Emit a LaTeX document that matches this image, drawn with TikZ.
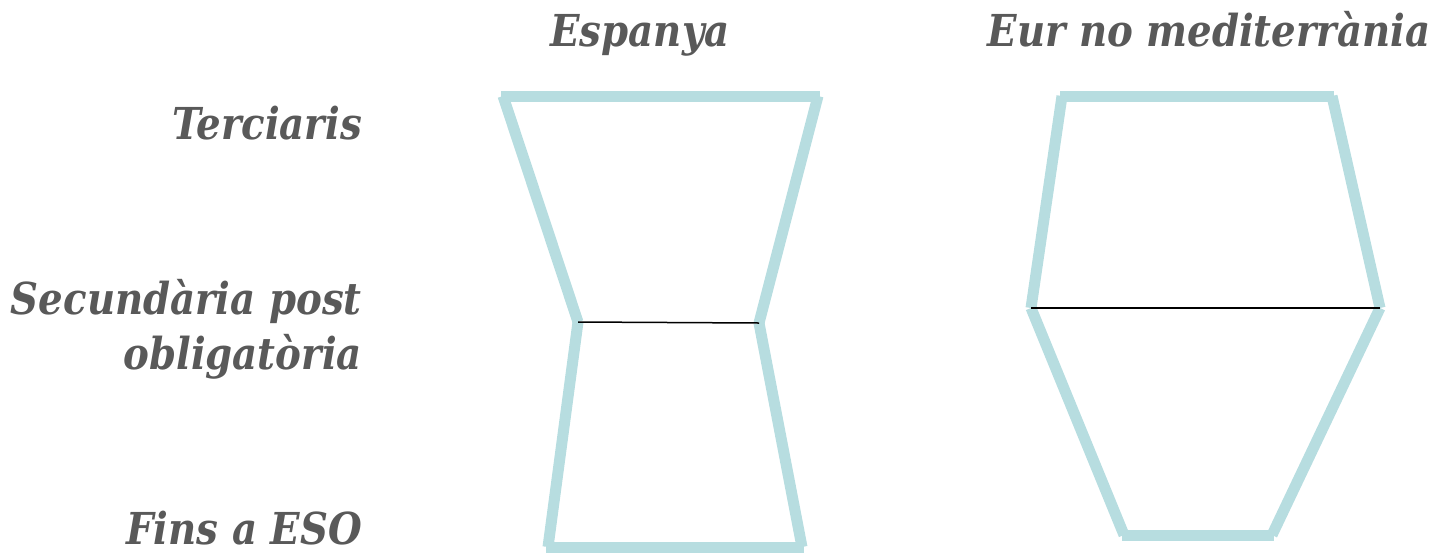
\documentclass[tikz,border=0pt]{standalone}
\usepackage{fontspec}
\setmainfont{DejaVu Serif}
\definecolor{band}{HTML}{B7DDE0}
\definecolor{txt}{HTML}{595959}
\begin{document}
\begin{tikzpicture}[x=1pt,y=-1pt,
  side/.style={draw=band,line width=11pt,line cap=butt},
  divider/.style={draw=black,line width=1.8pt},
  lbl/.style={text=txt,font=\fontsize{44}{55}\selectfont\bfseries\itshape,inner sep=0pt}]
\useasboundingbox (0,0) rectangle (1439,552);
% Espanya
\coordinate (a1) at (503,96);
\coordinate (a2) at (818,96);
\coordinate (a3) at (759,323);
\coordinate (a4) at (802,547);
\coordinate (a5) at (548,547);
\coordinate (a6) at (578,322);
\draw[side] (501,96) -- (820,96);
\draw[side] (a1) -- (a6);
\draw[side] (a2) -- (a3);
\draw[side] (a6) -- (a5);
\draw[side] (a3) -- (a4);
\draw[side] (546,547) -- (804,547);
\draw[divider,line width=1.5pt] (a6) -- (a3);
% Eur no mediterrania
\coordinate (b1) at (1062,96);
\coordinate (b2) at (1332,96);
\coordinate (b3) at (1380,308);
\coordinate (b4) at (1272,535);
\coordinate (b5) at (1124,535);
\coordinate (b6) at (1031,308);
\draw[side] (1060,96) -- (1334,96);
\draw[side] (b1) -- (b6);
\draw[side] (b2) -- (b3);
\draw[side] (b6) -- (b5);
\draw[side] (b3) -- (b4);
\draw[side] (1122,535) -- (1274,535);
\draw[divider] (b6) -- (b3);
% labels
\node[lbl,anchor=base] (h1) at (640,46) {\scalebox{0.88}[1]{Espanya}};
\node[lbl,anchor=base] (h2) at (1209,46) {\scalebox{0.88}[1]{Eur no mediterrània}};
\node[lbl,anchor=base east] (r1) at (362,139) {\scalebox{0.88}[1]{Terciaris}};
\node[lbl,anchor=base east] (r2) at (362,314) {\scalebox{0.88}[1]{Secundària post}};
\node[lbl,anchor=base east] (r3) at (362,369) {\scalebox{0.88}[1]{obligatòria}};
\node[lbl,anchor=base east] (r4) at (362,544) {\scalebox{0.88}[1]{Fins a ESO}};
\end{tikzpicture}
\end{document}
